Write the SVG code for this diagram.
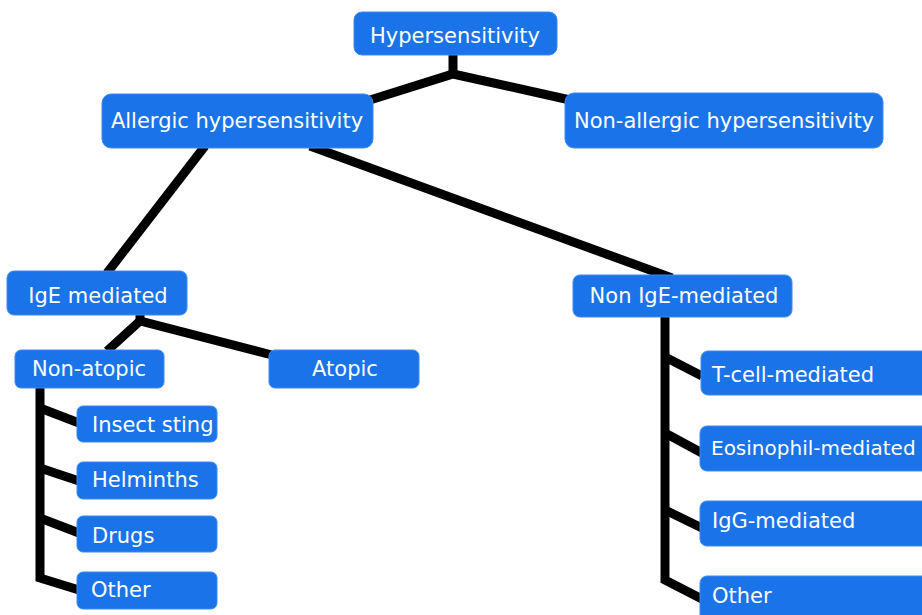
<svg xmlns="http://www.w3.org/2000/svg" width="922" height="615" viewBox="0 0 922 615">
<style>
.box{fill:#1a73e8;stroke:#3d8bf0;stroke-width:1}
.t{fill:#fff;font-family:"DejaVu Sans",Verdana,sans-serif;font-size:21px}
.c{text-anchor:middle}
.ln{stroke:#000;stroke-width:9;fill:none;stroke-linejoin:miter;stroke-linecap:butt}
</style>
<rect width="922" height="615" fill="#fff"/>
<g id="connectors" class="ln">
<polyline points="453,55 453,75"/>
<polyline points="370,100 453,74 570,100"/>
<line x1="205" y1="146" x2="107" y2="273"/>
<line x1="310" y1="146" x2="672" y2="278"/>
<polyline points="140,315 140,321"/>
<polyline points="107,351 140,321 272,355"/>
<polyline points="40,386 40,578 79,590"/>
<line x1="40" y1="408" x2="79" y2="423"/>
<line x1="40" y1="468" x2="79" y2="481"/>
<line x1="40" y1="518" x2="79" y2="533"/>
<polyline points="665,315 665,580 702,599"/>
<line x1="665" y1="357" x2="702" y2="376"/>
<line x1="665" y1="433" x2="702" y2="453"/>
<line x1="665" y1="510" x2="702" y2="528"/>
</g>
<g id="n-hyper"><rect class="box" x="354" y="12" width="203" height="43" rx="8"/><text class="t c" x="455" y="43">Hypersensitivity</text></g>
<g id="n-allergic"><rect class="box" x="102" y="94" width="271" height="54" rx="9"/><text class="t c" x="237" y="128">Allergic hypersensitivity</text></g>
<g id="n-nonallergic"><rect class="box" x="565" y="93" width="318" height="55" rx="9"/><text class="t c" x="724" y="128">Non-allergic hypersensitivity</text></g>
<g id="n-ige"><rect class="box" x="7" y="271" width="180" height="44" rx="7"/><text class="t c" x="98" y="303">IgE mediated</text></g>
<g id="n-nonige"><rect class="box" x="573" y="275" width="219" height="42" rx="7"/><text class="t c" x="684" y="303">Non IgE-mediated</text></g>
<g id="n-nonatopic"><rect class="box" x="15" y="350" width="149" height="38" rx="6"/><text class="t c" x="89" y="376">Non-atopic</text></g>
<g id="n-atopic"><rect class="box" x="269" y="350" width="150" height="38" rx="6"/><text class="t c" x="345" y="376">Atopic</text></g>
<g id="n-insect"><rect class="box" x="77" y="406" width="140" height="36" rx="6"/><text class="t" x="92" y="432">Insect sting</text></g>
<g id="n-helminths"><rect class="box" x="77" y="462" width="140" height="37" rx="6"/><text class="t" x="92" y="487">Helminths</text></g>
<g id="n-drugs"><rect class="box" x="77" y="516" width="140" height="36" rx="6"/><text class="t" x="92" y="543">Drugs</text></g>
<g id="n-other-l"><rect class="box" x="77" y="572" width="140" height="37" rx="6"/><text class="t" x="91" y="597">Other</text></g>
<g id="n-tcell"><rect class="box" x="701" y="351" width="240" height="44" rx="7"/><text class="t" x="712" y="382">T-cell-mediated</text></g>
<g id="n-eos"><rect class="box" x="700" y="426" width="240" height="45" rx="7"/><text class="t" x="711" y="455" style="font-size:20px">Eosinophil-mediated</text></g>
<g id="n-igg"><rect class="box" x="700" y="501" width="240" height="45" rx="7"/><text class="t" x="712" y="528">IgG-mediated</text></g>
<g id="n-other-r"><rect class="box" x="700" y="576" width="240" height="50" rx="7"/><text class="t" x="712" y="603">Other</text></g>
</svg>
